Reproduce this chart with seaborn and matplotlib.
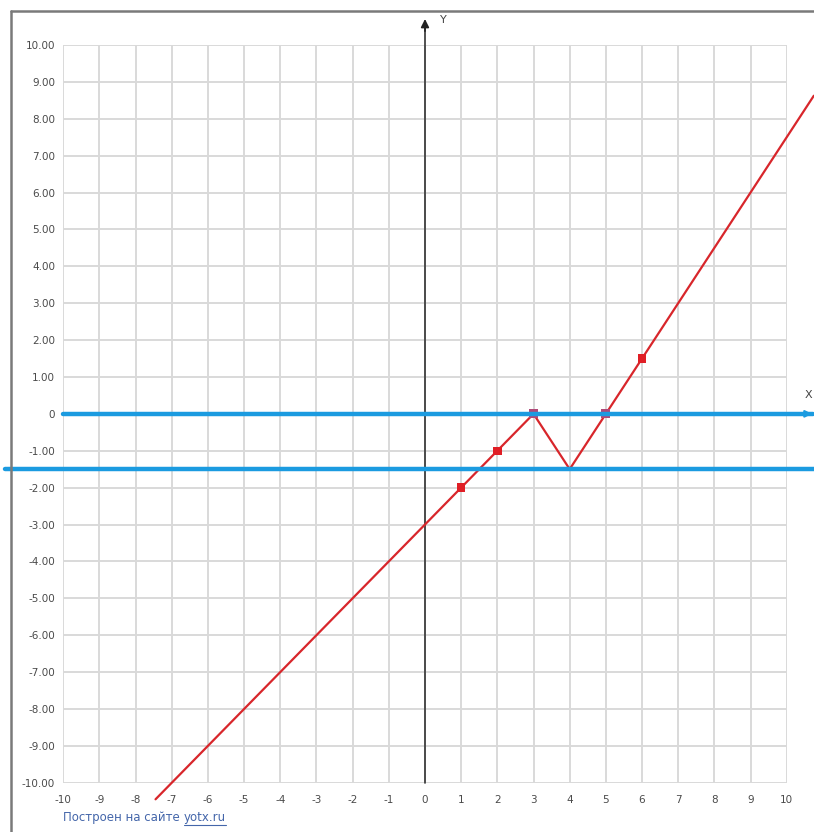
import matplotlib
matplotlib.use("Agg")
import matplotlib.pyplot as plt
from matplotlib.lines import Line2D
import numpy as np
import pandas as pd
import seaborn as sns

# ---- data ----
x_ticks = list(range(-10, 11))
y_ticks = list(range(-10, 11))
y_tick_labels = ["0" if v == 0 else f"{v:.2f}" for v in y_ticks]

# red broken line (graph of the function)
red_x = [-7.45, 3, 4, 10.75]
red_y = [-10.45, 0, -1.5, 8.625]

# marked points
pts_x = [1, 2, 6]
pts_y = [-2, -1, 1.5]
root_x = [3, 5]
root_y = [0, 0]

# horizontal blue lines
blue0_x = [-10, 10.72]
blue0_y = [0, 0]
blue1_x = [-11.6, 10.75]
blue1_y = [-1.5, -1.5]

footer_text = "Построен на сайте "
footer_link = "yotx.ru"

# ---- figure ----
sns.set_style("white")
plt.rcParams['font.family'] = ['DejaVu Sans']

W, H = 814, 832
fig = plt.figure(figsize=(W / 100, H / 100), dpi=100)
fig.patch.set_facecolor("white")

left_px, right_px, top_px, bottom_px = 63.3, 786.7, 45.0, 782.7
ax = fig.add_axes([left_px / W, (H - bottom_px) / H,
                   (right_px - left_px) / W, (bottom_px - top_px) / H])
ax.set_xlim(-10, 10)
ax.set_ylim(-10, 10)
for s in ax.spines.values():
    s.set_visible(False)

# grid
ax.set_xticks(x_ticks)
ax.set_yticks(y_ticks)
ax.grid(True, color="#d9d9d9", linewidth=1.4, zorder=0)
ax.set_axisbelow(True)
ax.set_xticklabels([str(v) for v in x_ticks], fontsize=7.5, color="#4a4a4a")
ax.set_yticklabels(y_tick_labels, fontsize=7.5, color="#4a4a4a")
ax.tick_params(axis="both", length=0, pad=6)
ax.tick_params(axis="x", pad=9)

# axes (black)
ax.plot([0, 0], [-10, 10.5], color="#333333", lw=1.2, clip_on=False, zorder=3)
ax.annotate("", xy=(0, 10.78), xytext=(0, 10.3),
            arrowprops=dict(arrowstyle="-|>", color="#222222", lw=1.2,
                            mutation_scale=12), annotation_clip=False)
ax.plot([-10.05, 10.6], [0, 0], color="#333333", lw=1.0, clip_on=False,
        zorder=3, solid_capstyle="butt")
ax.text(0.42, 10.68, "Y", fontsize=8, color="#444444", va="center",
        ha="left", clip_on=False)
ax.text(10.5, 0.52, "X", fontsize=8, color="#444444", va="center",
        ha="left", clip_on=False)

# red function graph
df_red = pd.DataFrame({"x": red_x, "y": red_y})
sns.lineplot(data=df_red, x="x", y="y", sort=False, color="#d8262b",
             linewidth=1.6, ax=ax, zorder=4, clip_on=False)

# markers at roots (under blue line)
df_root = pd.DataFrame({"x": root_x, "y": root_y})
sns.scatterplot(data=df_root, x="x", y="y", marker="s", s=40,
                color="#b04a78", edgecolor="none", ax=ax, zorder=4)

# blue lines
df_b0 = pd.DataFrame({"x": blue0_x, "y": blue0_y})
df_b1 = pd.DataFrame({"x": blue1_x, "y": blue1_y})
sns.lineplot(data=df_b0, x="x", y="y", color="#1b9be0", linewidth=3.2,
             ax=ax, zorder=5, clip_on=False)
sns.lineplot(data=df_b1, x="x", y="y", color="#1b9be0", linewidth=3.2,
             ax=ax, zorder=5, clip_on=False)
ax.annotate("", xy=(10.78, 0), xytext=(10.5, 0),
            arrowprops=dict(arrowstyle="-|>", color="#1b9be0", lw=1.5,
                            mutation_scale=10), annotation_clip=False, zorder=6)

# red points
df_pts = pd.DataFrame({"x": pts_x, "y": pts_y})
sns.scatterplot(data=df_pts, x="x", y="y", marker="s", s=36,
                color="#e01e25", edgecolor="none", ax=ax, zorder=6)

ax.set_xlabel("")
ax.set_ylabel("")

# frame border (top and left)
fig.add_artist(Line2D([10.5 / W, W / W], [1 - 11 / H, 1 - 11 / H],
                      color="#7a7a7a", lw=1.8, transform=fig.transFigure))
fig.add_artist(Line2D([10.5 / W, 10.5 / W], [0, 1 - 11 / H],
                      color="#7a7a7a", lw=1.8, transform=fig.transFigure))

# footer
t1 = fig.text(63 / W, 1 - 818 / H, footer_text, fontsize=8.5,
              color="#4466aa", va="center", ha="left")
fig.canvas.draw()
bb = t1.get_window_extent()
x2 = bb.x1 / (W)
t2 = fig.text(x2, 1 - 818 / H, footer_link, fontsize=8.5, color="#4466aa",
              va="center", ha="left")
fig.canvas.draw()
bb2 = t2.get_window_extent()
fig.add_artist(Line2D([bb2.x0 / W, bb2.x1 / W], [bb2.y0 / H - 0.001, bb2.y0 / H - 0.001],
                      color="#4466aa", lw=0.8, transform=fig.transFigure))

fig.savefig("out.png", dpi=100, facecolor="white")
